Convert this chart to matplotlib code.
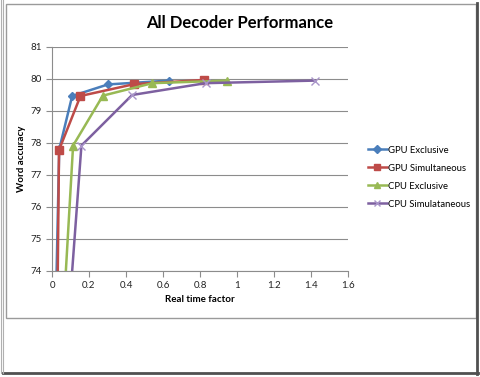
import matplotlib.pyplot as plt
from matplotlib.patches import Rectangle
from matplotlib.lines import Line2D
from matplotlib.ticker import FuncFormatter, MultipleLocator

plt.rcParams['font.family'] = ['Lato', 'DejaVu Sans']

# data (first point of each series lies below the axis)
gpu_excl_x = [0.010, 0.039, 0.109, 0.302, 0.633]
gpu_excl_y = [70.0, 77.80, 79.47, 79.83, 79.95]
gpu_sim_x = [0.024, 0.038, 0.154, 0.445, 0.820]
gpu_sim_y = [70.0, 77.78, 79.47, 79.84, 79.97]
cpu_excl_x = [0.035, 0.114, 0.275, 0.543, 0.944]
cpu_excl_y = [70.0, 77.92, 79.48, 79.87, 79.95]
cpu_sim_x = [0.058, 0.159, 0.433, 0.830, 1.419]
cpu_sim_y = [70.0, 77.92, 79.50, 79.87, 79.95]

labels = ['GPU Exclusive', 'GPU Simultaneous', 'CPU Exclusive', 'CPU Simulataneous']
colors = ['#4A7EBB', '#BE4B48', '#98B954', '#7D60A0']

W, H = 480, 377
fig = plt.figure(figsize=(W / 100, H / 100), dpi=100)

def fx(px):
    return px / W

def fy(py):
    return 1 - py / H

# frames around the chart (Excel screenshot look)
fig.patches.append(Rectangle((fx(6), fy(318)), fx(470), 314 / H, transform=fig.transFigure,
                             fill=False, edgecolor='#9a9a9a', lw=1))
fig.lines.append(Line2D([fx(477), fx(477)], [fy(3), fy(374)], transform=fig.transFigure,
                        color='#505050', lw=2))
fig.lines.append(Line2D([fx(3), fx(478)], [fy(373), fy(373)], transform=fig.transFigure,
                        color='#505050', lw=2))
fig.lines.append(Line2D([fx(1), fx(1)], [fy(0), fy(373)], transform=fig.transFigure,
                        color='#b0b0b0', lw=0.8))
fig.lines.append(Line2D([fx(3), fx(3)], [fy(0), fy(373)], transform=fig.transFigure,
                        color='#b0b0b0', lw=0.8))

ax = fig.add_axes([fx(52), fy(271), fx(296), 224 / H])

ax.plot(gpu_excl_x, gpu_excl_y, color=colors[0], lw=1.8, marker='D', ms=4.5, label=labels[0])
ax.plot(gpu_sim_x, gpu_sim_y, color=colors[1], lw=1.8, marker='s', ms=6, label=labels[1])
ax.plot(cpu_excl_x, cpu_excl_y, color=colors[2], lw=1.8, marker='^', ms=6, label=labels[2])
ax.plot(cpu_sim_x, cpu_sim_y, color=colors[3], lw=1.8, marker='x', ms=6, mew=1,
        mec='#a995c9', label=labels[3])

ax.set_xlim(0, 1.6)
ax.set_ylim(74, 81)
ax.xaxis.set_major_locator(MultipleLocator(0.2))
ax.yaxis.set_major_locator(MultipleLocator(1))
ax.xaxis.set_major_formatter(FuncFormatter(lambda v, p: '%g' % round(v, 1)))
ax.yaxis.set_major_formatter(FuncFormatter(lambda v, p: '%g' % v))
ax.grid(axis='y', color='#8c8c8c', lw=0.8)
ax.set_axisbelow(True)
for s in ['top', 'right']:
    ax.spines[s].set_visible(False)
for s in ['left', 'bottom']:
    ax.spines[s].set_color('#8c8c8c')
    ax.spines[s].set_linewidth(0.8)
ax.tick_params(colors='#8c8c8c', labelcolor='#222222', labelsize=7, length=4, width=0.8)

fig.text(0.5, fy(23), 'All Decoder Performance', ha='center', va='center',
         fontsize=12, fontweight='bold')
fig.text(fx(22), fy(159), 'Word accuracy', rotation=90, ha='center', va='center',
         fontsize=7, fontweight='bold')
fig.text(fx(200), fy(299), 'Real time factor', ha='center', va='center',
         fontsize=7, fontweight='bold')

fig.legend(loc='upper left', bbox_to_anchor=(fx(364), fy(142)), frameon=False,
           fontsize=6.8, handlelength=2.0, handletextpad=0.1, labelspacing=0.95,
           borderaxespad=0, markerscale=0.8)

fig.savefig('out.png', dpi=100)
